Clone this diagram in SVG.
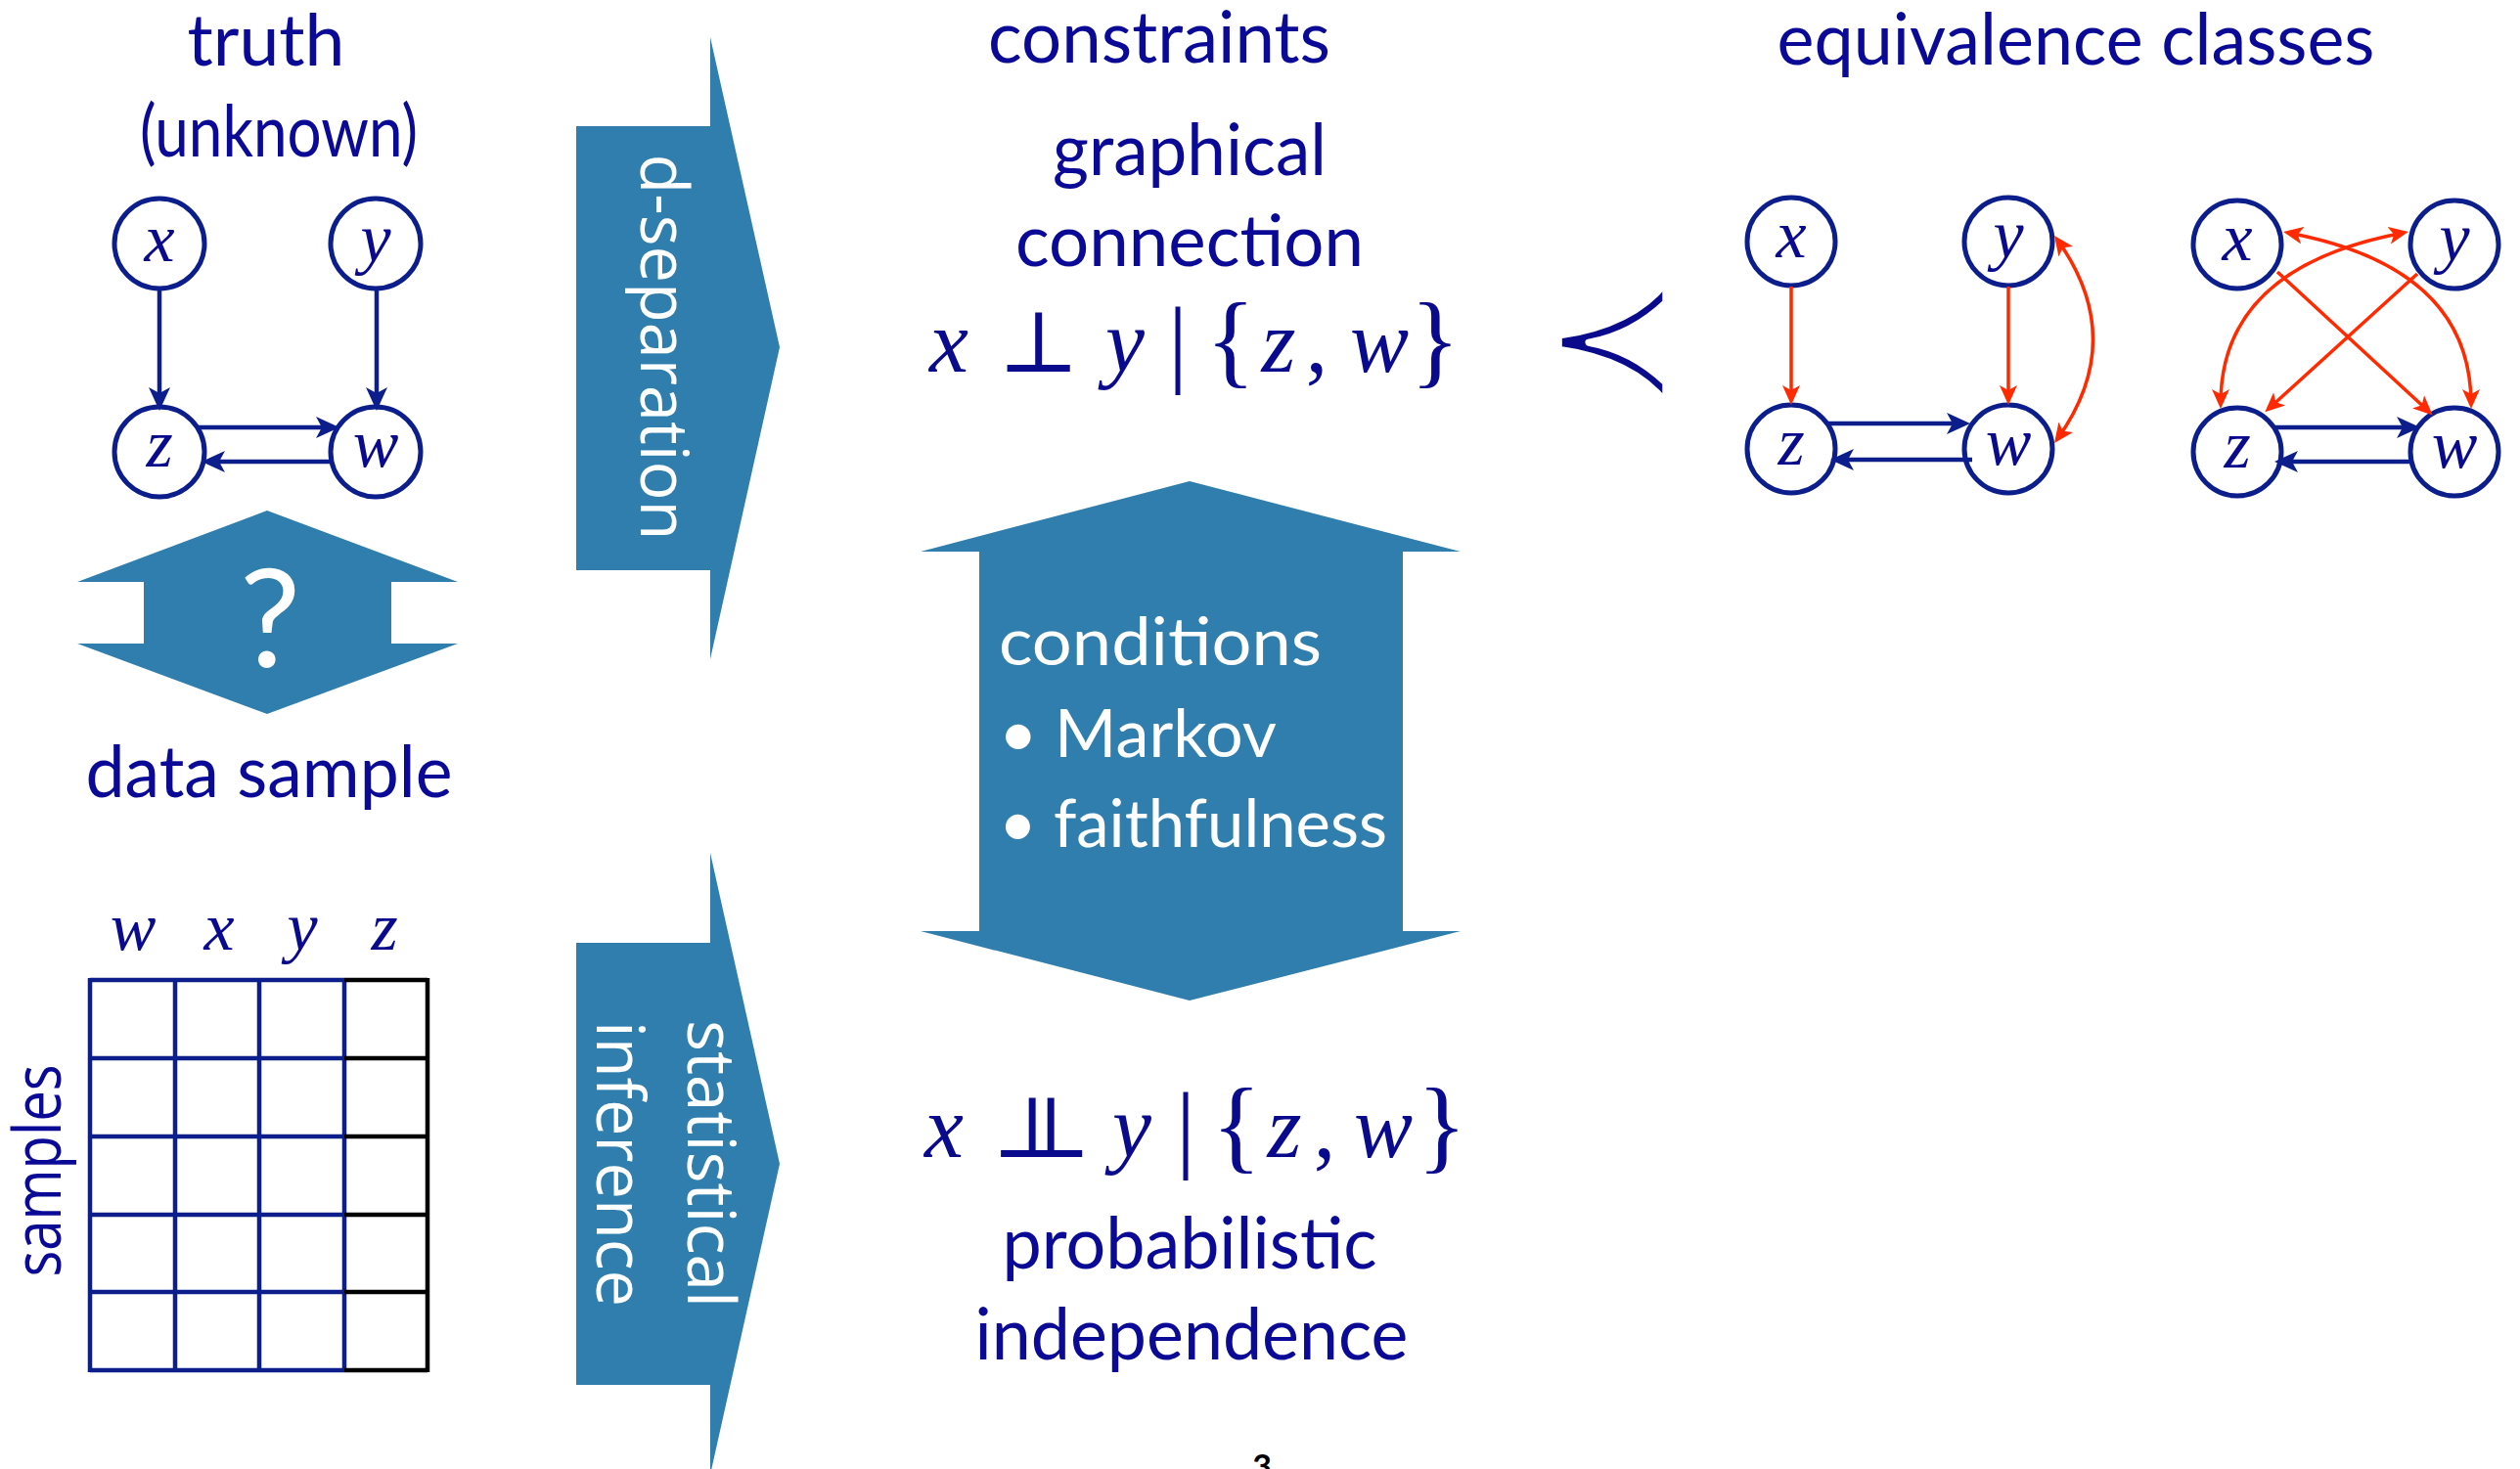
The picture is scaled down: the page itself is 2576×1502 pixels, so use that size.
<svg xmlns="http://www.w3.org/2000/svg" width="2576" height="1502" viewBox="0 0 2576 1502">
<style>
  .title { font-family: Lato, "Open Sans", "Liberation Sans", sans-serif; fill: #0a0a96; font-size: 73px; text-anchor: middle; }
  .cond { font-family: Lato, "Open Sans", "Liberation Sans", sans-serif; fill: #ffffff; font-size: 68px; }
  .vert { font-family: "Open Sans", "Liberation Sans", sans-serif; fill: #ffffff; font-size: 67px; text-anchor: middle; }
  .math { font-family: "Liberation Serif", "DejaVu Serif", serif; font-style: italic; fill: #0a0a8c; text-anchor: middle; }
  .sym { font-family: "DejaVu Serif", "Liberation Serif", serif; fill: #0a0a8c; text-anchor: middle; }
  .rm { font-family: "Liberation Serif", "DejaVu Serif", serif; fill: #0a0a8c; text-anchor: middle; }
  .node { fill: #ffffff; stroke: #0c1e8c; stroke-width: 5; }
  .eb { stroke: #0c1e8c; stroke-width: 4.5; fill: none; marker-end: url(#ahBlue); }
  .er { stroke: #ff2a00; stroke-width: 3.5; fill: none; marker-end: url(#ahRed); }
  .er2 { marker-start: url(#ahRed); }
  .teal { fill: #2f7eae; }
  .gb { stroke: #0c1e8c; stroke-width: 4.5; fill: none; }
  .gk { stroke: #000000; stroke-width: 4.5; fill: none; }
</style>
<defs>
  <marker id="ahBlue" viewBox="0 0 24 24" refX="18" refY="12" markerWidth="24" markerHeight="24" markerUnits="userSpaceOnUse" orient="auto-start-reverse">
    <path d="M0,1 L24,12 L0,23 L6,12 Z" fill="#0c1e8c"/>
  </marker>
  <marker id="ahRed" viewBox="0 0 20 20" refX="15" refY="10" markerWidth="20" markerHeight="20" markerUnits="userSpaceOnUse" orient="auto-start-reverse">
    <path d="M0,1 L20,10 L0,19 L5,10 Z" fill="#ff2a00"/>
  </marker>
</defs>
<rect width="2576" height="1502" fill="#ffffff"/>

<!-- big teal arrows -->
<g id="arrow-question">
  <polygon class="teal" points="273,522 468,595 400,595 400,658 468,658 273,730 79,658 147,658 147,595 79,595"/>
  <text x="276" y="682" font-family="Lato, 'Open Sans', sans-serif" font-size="140" fill="#ffffff" text-anchor="middle">?</text>
</g>
<g id="arrow-dseparation">
  <polygon class="teal" points="589,129 726,129 726,38 797,355 726,674 726,583 589,583"/>
  <text class="vert" transform="translate(655,355) rotate(90)" x="0" y="0" textLength="395" lengthAdjust="spacingAndGlyphs">d-separation</text>
</g>
<g id="arrow-statistical">
  <polygon class="teal" points="589,964 726,964 726,872 797,1190 726,1508 726,1416 589,1416"/>
  <text class="vert" font-size="69" transform="translate(703,1190) rotate(90)" x="0" y="0" textLength="294" lengthAdjust="spacingAndGlyphs">statistical</text>
  <text class="vert" font-size="69" transform="translate(610,1190) rotate(90)" x="0" y="0" textLength="292" lengthAdjust="spacingAndGlyphs">inference</text>
</g>
<g id="arrow-conditions">
  <polygon class="teal" points="1216,492 1493,564 1434,564 1434,952 1493,952 1216,1023 941,952 1001,952 1001,564 941,564"/>
  <text class="cond" x="1021" y="680" textLength="330" lengthAdjust="spacingAndGlyphs">conditions</text>
  <text class="cond" x="1021" y="774" textLength="284" lengthAdjust="spacingAndGlyphs">• Markov</text>
  <text class="cond" x="1021" y="866" textLength="397" lengthAdjust="spacingAndGlyphs">• faithfulness</text>
</g>

<!-- titles -->
<g id="titles">
  <text class="title" x="272" y="67" textLength="161" lengthAdjust="spacingAndGlyphs">truth</text>
  <text class="title" x="285" y="160" font-size="58" textLength="284" lengthAdjust="spacingAndGlyphs">(unknown)</text>
  <text class="title" x="275" y="815" textLength="375" lengthAdjust="spacingAndGlyphs">data sample</text>
  <text class="title" x="1185" y="64" textLength="350" lengthAdjust="spacingAndGlyphs">constraints</text>
  <text class="title" x="2122" y="66" textLength="611" lengthAdjust="spacingAndGlyphs">equivalence classes</text>
  <text class="title" x="1216" y="179" textLength="280" lengthAdjust="spacingAndGlyphs">graphical</text>
  <text class="title" x="1216" y="272" textLength="356" lengthAdjust="spacingAndGlyphs">connection</text>
  <text class="title" x="1216" y="1297" textLength="383" lengthAdjust="spacingAndGlyphs">probabilistic</text>
  <text class="title" x="1218" y="1390" textLength="443" lengthAdjust="spacingAndGlyphs">independence</text>
  <text x="1290" y="1512" font-family="Lato, 'Liberation Sans', sans-serif" font-size="34" font-weight="bold" fill="#000000" text-anchor="middle">3</text>
</g>

<!-- formulas -->
<g id="formula-graphical">
  <text class="math" x="970" y="380" font-size="90">x</text>
  <text class="sym" x="1062" y="380" font-size="88">⊥</text>
  <text class="math" x="1150" y="380" font-size="90">y</text>
  <text class="rm" x="1204" y="383" font-size="100">|</text>
  <text class="rm" x="1258" y="383" font-size="105">{</text>
  <text class="math" x="1307" y="380" font-size="90">z</text>
  <text class="rm" x="1346" y="380" font-size="90">,</text>
  <text class="math" x="1410" y="380" font-size="90">w</text>
  <text class="rm" x="1467" y="383" font-size="105">}</text>
</g>
<g id="formula-probabilistic">
  <text class="math" x="965" y="1183" font-size="90">x</text>
  <text x="1014" y="1183" font-size="88" font-family="'DejaVu Serif', serif" fill="#0a0a8c" letter-spacing="-63.7">⊥⊥</text>
  <text class="math" x="1157" y="1183" font-size="90">y</text>
  <text class="rm" x="1212" y="1186" font-size="100">|</text>
  <text class="rm" x="1264" y="1186" font-size="105">{</text>
  <text class="math" x="1313" y="1183" font-size="90">z</text>
  <text class="rm" x="1354" y="1183" font-size="90">,</text>
  <text class="math" x="1414" y="1183" font-size="90">w</text>
  <text class="rm" x="1474" y="1186" font-size="105">}</text>
</g>
<g id="precedes">
  <text x="1648" y="405" font-size="175" font-family="'DejaVu Sans', sans-serif" fill="#0a0a8c" stroke="#ffffff" stroke-width="7" stroke-linejoin="round" text-anchor="middle">≺</text>
</g>

<!-- data table -->
<g id="table">
  <text class="math" x="136" y="971" font-size="70">w</text>
  <text class="math" x="224" y="971" font-size="70">x</text>
  <text class="math" x="309" y="971" font-size="70">y</text>
  <text class="math" x="393" y="971" font-size="70">z</text>
  <path class="gb" d="M92,1002 H352 M92,1082 H352 M92,1162 H352 M92,1242 H352 M92,1321 H352 M92,1401 H352 M92,1000 V1403 M179,1000 V1403 M265,1000 V1403 M352,1000 V1403"/>
  <path class="gk" d="M352,1002 H437 M352,1082 H437 M352,1162 H437 M352,1242 H437 M352,1321 H437 M352,1401 H437 M437,1000 V1403"/>
  <text class="vert" style="fill:#0a0a96" font-size="65" transform="translate(62,1197) rotate(-90)" x="0" y="0" textLength="217" lengthAdjust="spacingAndGlyphs">samples</text>
</g>

<!-- truth graph -->
<g id="truth-x"><circle class="node" cx="163" cy="249" r="46"/><text class="math" x="163" y="267" font-size="70">x</text></g>
<g id="truth-y"><circle class="node" cx="384" cy="249" r="46"/><text class="math" x="384" y="267" font-size="70">y</text></g>
<g id="truth-z"><circle class="node" cx="163" cy="462" r="46"/><text class="math" x="163" y="477" font-size="70">z</text></g>
<g id="truth-w"><circle class="node" cx="384" cy="462" r="46"/><text class="math" x="384" y="477" font-size="70">w</text></g>

<!-- equivalence class graph 1 -->
<g id="g1-x"><circle class="node" cx="1831" cy="247" r="45"/><text class="math" x="1831" y="263" font-size="70">x</text></g>
<g id="g1-y"><circle class="node" cx="2053" cy="247" r="45"/><text class="math" x="2053" y="263" font-size="70">y</text></g>
<g id="g1-z"><circle class="node" cx="1831" cy="459" r="45"/><text class="math" x="1831" y="475" font-size="70">z</text></g>
<g id="g1-w"><circle class="node" cx="2053" cy="459" r="45"/><text class="math" x="2053" y="475" font-size="70">w</text></g>

<!-- equivalence class graph 2 -->
<g id="g2-x"><circle class="node" cx="2287" cy="250" r="45"/><text class="math" x="2287" y="266" font-size="70">x</text></g>
<g id="g2-y"><circle class="node" cx="2509" cy="250" r="45"/><text class="math" x="2509" y="266" font-size="70">y</text></g>
<g id="g2-z"><circle class="node" cx="2287" cy="462" r="45"/><text class="math" x="2287" y="478" font-size="70">z</text></g>
<g id="g2-w"><circle class="node" cx="2509" cy="462" r="45"/><text class="math" x="2509" y="478" font-size="70">w</text></g>

<!-- connectors -->
<g id="connectors">
  <path class="eb" d="M163,295 V414"/>
  <path class="eb" d="M385,295 V414"/>
  <path class="eb" d="M202,437 H341"/>
  <path class="eb" d="M339,472 H212"/>
  <path class="er" d="M1831,293 V409"/>
  <path class="er" d="M2053,293 V409"/>
  <path class="er er2" d="M2103,245 Q2176,347 2103,449"/>
  <path class="eb" d="M1869,433 H2008"/>
  <path class="eb" d="M2016,470 H1877"/>
  <path class="er" d="M2328,278 L2483,421"/>
  <path class="er" d="M2471,280 L2319,418"/>
  <path class="er er2" d="M2339,238 Q2526,273 2526,413"/>
  <path class="er er2" d="M2270,413 Q2270,273 2457,238"/>
  <path class="eb" d="M2325,437 H2468"/>
  <path class="eb" d="M2466,472 H2331"/>
</g>
</svg>
